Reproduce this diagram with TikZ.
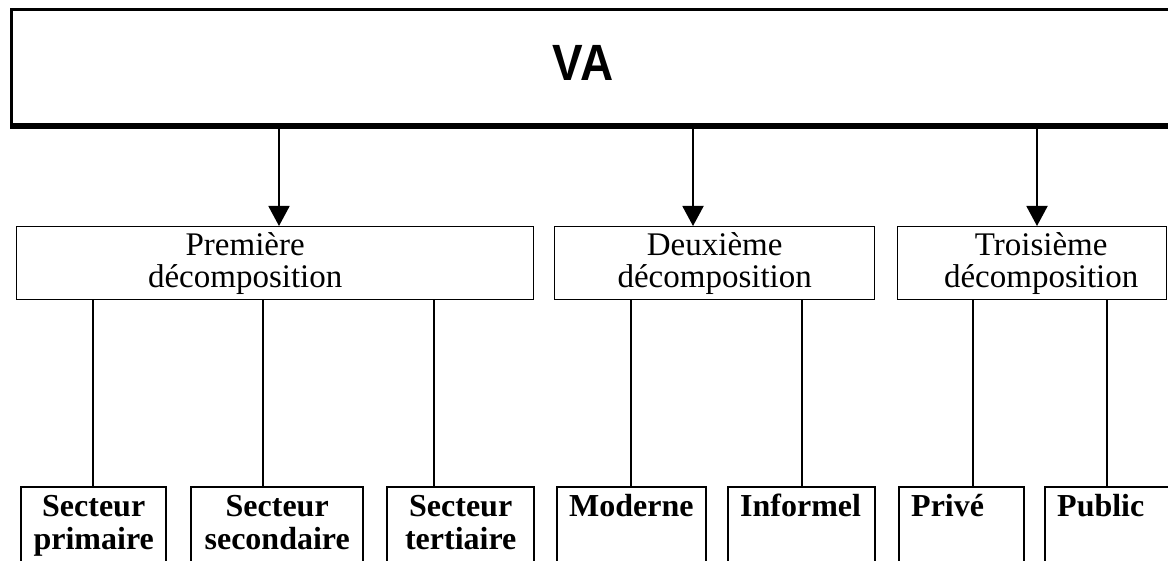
\documentclass[tikz,border=0pt]{standalone}
\usepackage{fontspec}
\setmainfont{Liberation Serif}
\newfontfamily\vafont[FakeStretch=0.9]{Liberation Sans}
\usetikzlibrary{arrows.meta}
\begin{document}
\begin{tikzpicture}[x=1pt,y=-1pt,
  vabox/.style={draw, line width=3.2pt, inner sep=0pt, anchor=north west},
  decbox/.style={draw, line width=1.4pt, align=center, inner sep=0pt, anchor=north west,
    minimum height=73pt, text height=55pt, text depth=6pt,
    font=\fontsize{33}{32}\selectfont},
  secbox/.style={draw, line width=2.4pt, inner xsep=0pt, inner ysep=0pt, anchor=north west,
    align=center, text height=29pt, text depth=120pt,
    font=\bfseries\fontsize{32}{33}\selectfont},
  leftbox/.style={secbox, align=left, inner xsep=12pt},
  link/.style={line width=1.9pt},
  arr/.style={line width=1.9pt, -{Triangle[width=21pt,length=20pt]}}]
\useasboundingbox (0,0) rectangle (1168,561);
\clip (0,0) rectangle (1168,561);
% top box
\node[vabox, minimum width=1180pt, minimum height=115pt] (va) at (10,8) {};
\draw[line width=5.5pt] (va.south west) -- (va.south east);
\node[font=\vafont\bfseries\fontsize{51}{56}\selectfont] (vatext) at (583,63) {VA};
% second level
\node[decbox, minimum width=517pt] (b1) at (16,226)
  {\hspace*{-60pt}Première\\\hspace*{-60pt}décomposition};
\node[decbox, minimum width=320pt] (b2) at (554,226) {Deuxième\\décomposition};
\node[decbox, minimum width=269pt] (b3) at (897,226)
  {\hspace*{18pt}Troisième\\\hspace*{18pt}décomposition};
% arrow x positions
\coordinate (a1) at (279,0);
\coordinate (a2) at (693,0);
\coordinate (a3) at (1037,0);
\draw[arr] (va.south -| a1) -- (b1.north -| a1);
\draw[arr] (va.south -| a2) -- (b2.north -| a2);
\draw[arr] (va.south -| a3) -- (b3.north -| a3);
% bottom level
\node[secbox, text width=145pt] (prim) at (20,486) {Secteur\\primaire};
\node[secbox, text width=172pt] (sec) at (190,486) {Secteur\\secondaire};
\node[secbox, text width=147pt] (ter) at (386,486) {Secteur\\tertiaire};
\node[leftbox, text width=125pt] (mod) at (556,486) {Moderne};
\node[leftbox, text width=123pt] (inf) at (727,486) {Informel};
\node[leftbox, text width=101pt] (priv) at (898,486) {Privé};
\node[leftbox, text width=102pt] (pub) at (1044,486) {Public};
% connector x positions
\coordinate (c1) at (93,0);
\coordinate (c2) at (263,0);
\coordinate (c3) at (434,0);
\coordinate (c4) at (631,0);
\coordinate (c5) at (802,0);
\coordinate (c6) at (973,0);
\coordinate (c7) at (1107,0);
\draw[link] (b1.south -| c1) -- (prim.north -| c1);
\draw[link] (b1.south -| c2) -- (sec.north -| c2);
\draw[link] (b1.south -| c3) -- (ter.north -| c3);
\draw[link] (b2.south -| c4) -- (mod.north -| c4);
\draw[link] (b2.south -| c5) -- (inf.north -| c5);
\draw[link] (b3.south -| c6) -- (priv.north -| c6);
\draw[link] (b3.south -| c7) -- (pub.north -| c7);
\end{tikzpicture}
\end{document}
